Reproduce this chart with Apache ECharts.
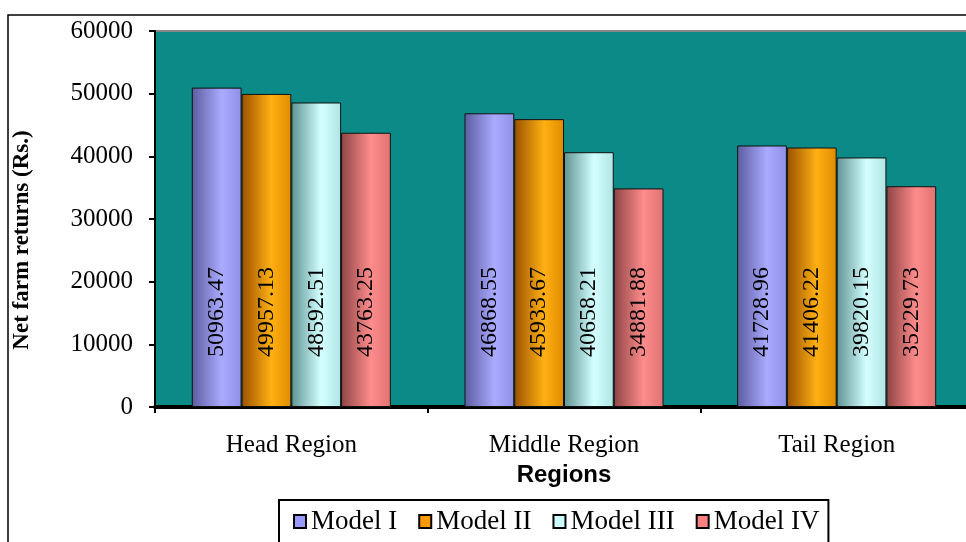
<!DOCTYPE html>
<html>
<head>
<meta charset="utf-8">
<script src="https://cdn.jsdelivr.net/npm/echarts@6/dist/echarts.min.js"></script>
<style>
  html, body { margin: 0; padding: 0; background: #fff; overflow: hidden; }
  /* the plot runs a little past the right edge of the picture */
  #chart { width: 973px; height: 542px; }
</style>
</head>
<body>
<div id="chart"></div>
<script>
// regions on the x axis
const regions = ['Head Region', 'Middle Region', 'Tail Region']
const models = ['Model I', 'Model II', 'Model III', 'Model IV']

// net farm returns (Rs.) per model, one value per region
const model1 = [50963.47, 46868.55, 41728.96]
const model2 = [49957.13, 45933.67, 41406.22]
const model3 = [48592.51, 40658.21, 39820.15]
const model4 = [43763.25, 34881.88, 35229.73]

const serif = 'Liberation Serif, Times New Roman, serif'

// flat colour for the legend, shaded colours for the cylinders
const flat = ['#9999ff', '#ff9900', '#ccffff', '#ff8080']
const shades = [
  ['#5c5ca0', '#aaaaff', '#8f8fe6'],
  ['#9a5200', '#ffb012', '#e08a00'],
  ['#5f9393', '#d4ffff', '#b0e4e4'],
  ['#8e4444', '#ff8c8c', '#e07272']
]

function shade (c) {
  return new echarts.graphic.LinearGradient(0, 0, 1, 0, [
    { offset: 0, color: c[0] },
    { offset: 0.6, color: c[1] },
    { offset: 1, color: c[2] }
  ])
}

const seriesData = [model1, model2, model3, model4]

const chart = echarts.init(document.getElementById('chart'))

chart.setOption({
  animation: false,
  backgroundColor: '#fff',
  grid: {
    left: 155,
    top: 31,
    right: 0,
    bottom: 135,
    show: true,
    backgroundColor: '#0b8a88',
    borderColor: '#888',
    borderWidth: 2
  },
  graphic: [
    {
      type: 'polyline',
      shape: { points: [[8, 542], [8, 15], [973, 15]] },
      style: { stroke: '#000', lineWidth: 1.5, fill: null }
    },
    {
      type: 'text',
      x: 22,
      y: 240,
      rotation: Math.PI / 2,
      style: {
        text: 'Net farm returns (Rs.)',
        font: 'bold 23px ' + serif,
        fill: '#000',
        align: 'center',
        verticalAlign: 'middle'
      }
    }
  ],
  legend: {
    left: 279,
    top: 500,
    padding: [8, 9, 20, 14],
    borderColor: '#000',
    borderWidth: 2,
    itemWidth: 12,
    itemHeight: 13,
    itemGap: 21,
    textStyle: { fontFamily: serif, fontSize: 27, color: '#000' },
    data: models.map((m, i) => ({
      name: m,
      icon: 'rect',
      itemStyle: { color: flat[i], borderColor: '#000', borderWidth: 2 }
    }))
  },
  xAxis: {
    type: 'category',
    data: regions,
    name: 'Regions',
    nameLocation: 'middle',
    nameGap: 53,
    nameTextStyle: { fontFamily: 'Liberation Sans, Arial, sans-serif', fontWeight: 'bold', fontSize: 24, color: '#000' },
    axisLine: { lineStyle: { color: '#000', width: 4 } },
    axisTick: { show: true, length: 6, lineStyle: { color: '#000', width: 2 } },
    axisLabel: { fontFamily: serif, fontSize: 25, color: '#000', margin: 26 },
    splitLine: { show: false }
  },
  yAxis: {
    type: 'value',
    min: 0,
    max: 60000,
    interval: 10000,
    axisLine: { show: true, lineStyle: { color: '#000', width: 2 } },
    axisTick: { show: true, length: 6, lineStyle: { color: '#000', width: 2 } },
    axisLabel: { fontFamily: serif, fontSize: 25, color: '#000', margin: 22, formatter: v => String(v) },
    splitLine: { show: false }
  },
  series: models.map((m, i) => ({
    name: m,
    type: 'bar',
    data: seriesData[i],
    barGap: '0%',
    barCategoryGap: '27%',
    itemStyle: { color: shade(shades[i]), borderColor: '#111', borderWidth: 1 },
    label: {
      show: true,
      position: 'insideBottom',
      rotate: 90,
      distance: 50,
      align: 'left',
      verticalAlign: 'middle',
      fontFamily: serif,
      fontSize: 24,
      color: '#000',
      formatter: p => p.value.toFixed(2)
    }
  }))
})
</script>
</body>
</html>
